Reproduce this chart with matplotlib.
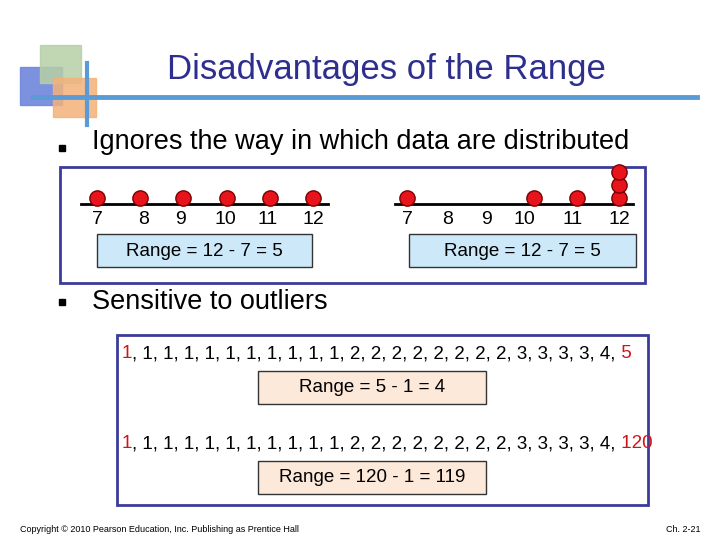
import matplotlib
matplotlib.use("Agg")
import matplotlib.pyplot as plt
from matplotlib.patches import Rectangle

title = "Disadvantages of the Range"
bullet1 = "Ignores the way in which data are distributed"
bullet2 = "Sensitive to outliers"
ticks = [7, 8, 9, 10, 11, 12]
left_values = [7, 8, 9, 10, 11, 12]
right_values = [7, 10, 11, 12, 12, 12]
range_text = "Range = 12 - 7 = 5"
seq_values = [1]*11 + [2]*8 + [3]*4 + [4]
seq_mid = ", " + ", ".join(str(v) for v in seq_values[1:]) + ","
seq1_first, seq1_last = "1", " 5"
seq2_first, seq2_last = "1", " 120"
range1 = "Range = 5 - 1 = 4"
range2 = "Range = 120 - 1 = 119"

plt.rcParams['font.family'] = ['Liberation Sans', 'DejaVu Sans']
fig = plt.figure(figsize=(7.2, 5.4), dpi=100)
ax = fig.add_axes([0, 0, 1, 1])
ax.set_xlim(0, 720); ax.set_ylim(540, 0); ax.axis('off')

# decoration
ax.add_patch(Rectangle((20, 67), 42, 38, color='#6f86dc', alpha=0.9, zorder=1))
ax.add_patch(Rectangle((40, 45), 41, 38, color='#b7cfa6', alpha=0.85, zorder=2))
ax.add_patch(Rectangle((53, 78), 43, 39, color='#f4b27a', alpha=0.85, zorder=3))
ax.plot([33, 697], [97, 97], color='#5b9bd5', lw=3.5, zorder=4)
ax.plot([87, 87], [63, 125], color='#5b9bd5', lw=3, zorder=4)

ax.text(386, 70, title, ha='center', va='center', fontsize=25, color='#2e2e8f')
ax.plot([62, 62], [148, 302], 's', ms=4.5, color='black')
ax.text(92, 142, bullet1, fontsize=19.5, va='center')
ax.text(92, 302, bullet2, fontsize=19.5, va='center')

# boxes
ax.add_patch(Rectangle((60, 167), 585, 116, fill=False, ec='#3b3b9b', lw=2))
ax.add_patch(Rectangle((117, 335), 531, 170, fill=False, ec='#3b3b9b', lw=2))
for x0, w in [(97, 215), (409, 227)]:
    ax.add_patch(Rectangle((x0, 234), w, 33, fc='#cde9f9', ec='#333333', lw=1))
    ax.text(x0 + w / 2, 251, range_text, ha='center', va='center', fontsize=13.5)
for y0, t in [(371, range1), (461, range2)]:
    ax.add_patch(Rectangle((258, y0), 228, 33, fc='#fde9d9', ec='#333333', lw=1))
    ax.text(372, y0 + 17, t, ha='center', va='center', fontsize=13.5)

def dotplot(values, x7, x12, xl, xr, label_xs):
    s = (x12 - x7) / 5.0
    ax.plot([xl, xr], [204, 204], color='black', lw=2, zorder=5)
    counts = {}
    for v in values:
        k = counts.get(v, 0); counts[v] = k + 1
        ax.plot(x7 + (v - 7) * s, 198 - 13 * k, 'o', ms=11, mfc='#e8141c',
                mec='#7a0000', mew=1, zorder=6)
    for t, lx in zip(ticks, label_xs):
        ax.text(lx, 219, str(t), ha='center', va='center', fontsize=14)

dotplot(left_values, 97, 313, 81, 328, [97, 144, 180, 225, 268, 313])
dotplot(right_values, 407, 619, 395, 633, [407, 448, 486, 524, 573, 619])

def seq(y, first, last):
    t1 = ax.text(122, y, first, fontsize=13.5, color='#d0141c', va='center')
    t2 = ax.annotate(seq_mid, xy=(1, 0.5), xycoords=t1, va='center', fontsize=13.5)
    ax.annotate(last, xy=(1, 0.5), xycoords=t2, va='center', fontsize=13.5, color='#d0141c')

seq(354, seq1_first, seq1_last)
seq(444, seq2_first, seq2_last)

ax.text(20, 529, "Copyright © 2010 Pearson Education, Inc. Publishing as Prentice Hall",
        fontsize=6.5, va='center')
ax.text(700, 529, "Ch. 2-21", fontsize=6.5, va='center', ha='right')

fig.savefig("out.png", dpi=100)
